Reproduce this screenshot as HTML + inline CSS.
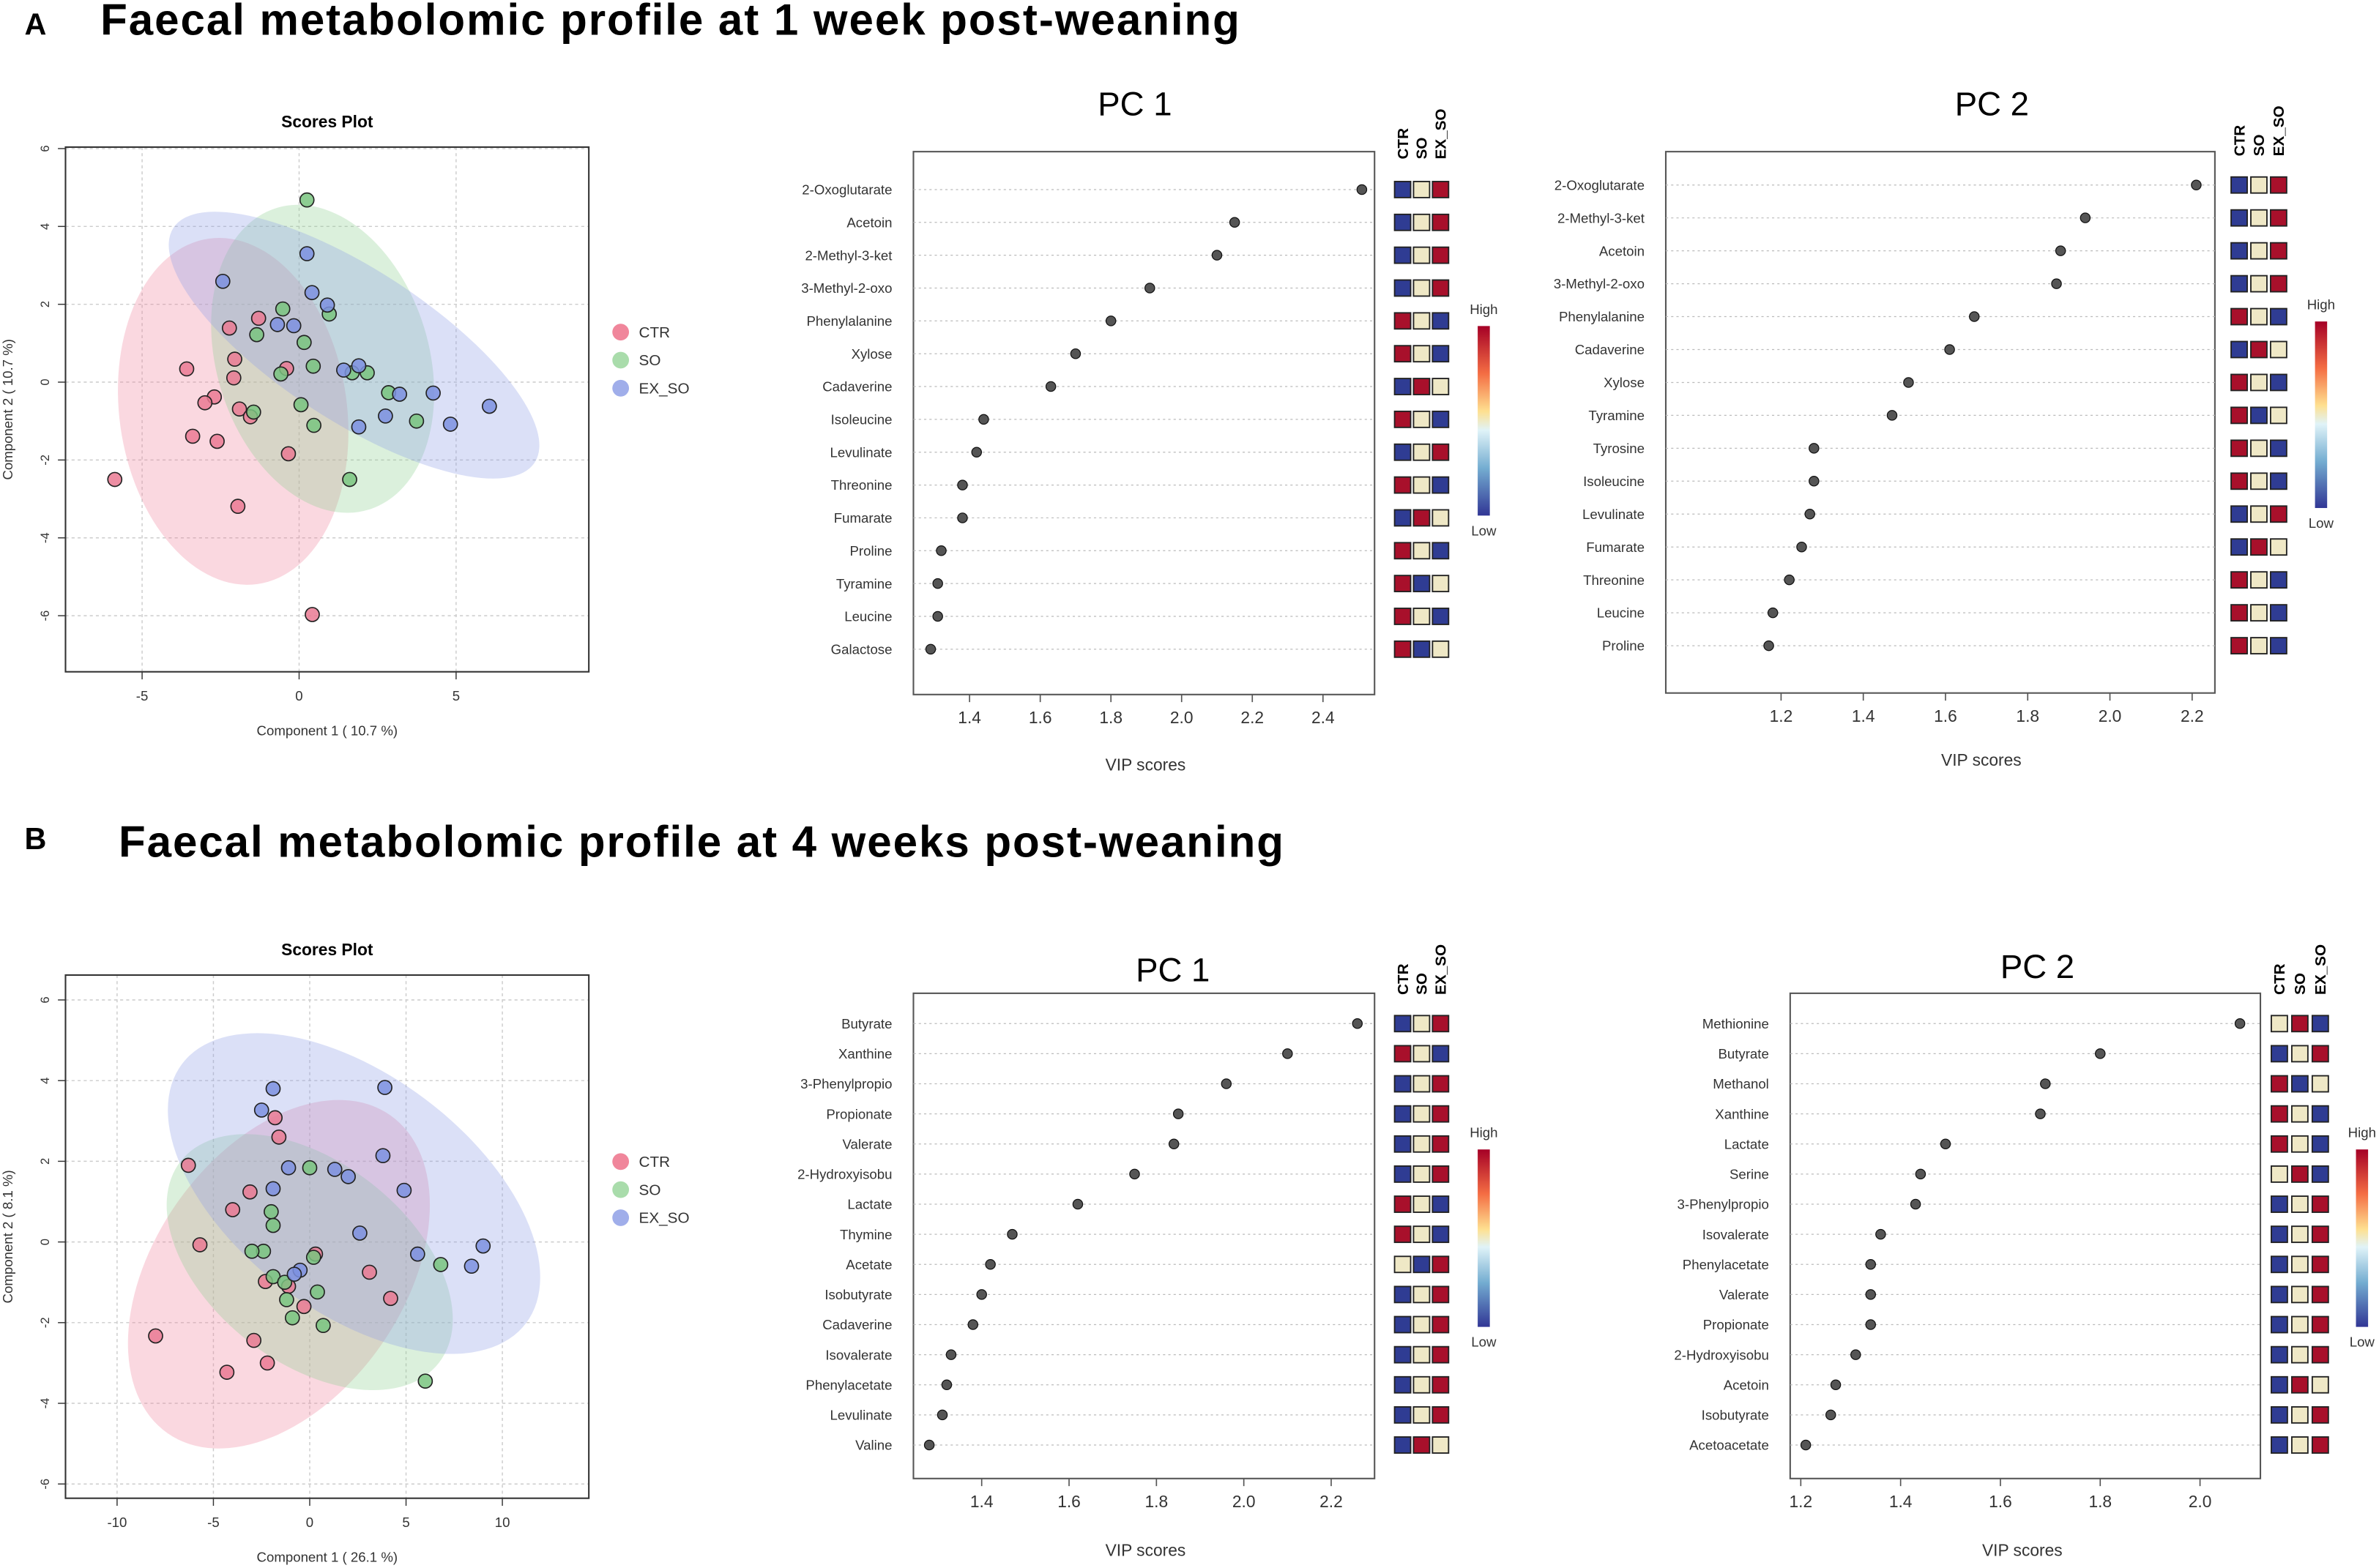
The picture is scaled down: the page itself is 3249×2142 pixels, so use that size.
<!DOCTYPE html>
<html><head><meta charset="utf-8"><style>
html,body{margin:0;padding:0;background:#fff;}
svg{display:block;font-family:"Liberation Sans",sans-serif;}
</style></head><body>
<svg id="fig" xmlns="http://www.w3.org/2000/svg" width="3249" height="2142" viewBox="0 0 1568 1034">
<rect width="1568" height="1034" fill="#fff"/>
<text x="16" y="23" font-size="20" font-weight="bold">A</text>
<text x="66" y="23" font-size="29" font-weight="bold" textLength="751">Faecal metabolomic profile at 1 week post-weaning</text>
<text x="16" y="560" font-size="20" font-weight="bold">B</text>
<text x="78" y="565" font-size="29" font-weight="bold" textLength="768">Faecal metabolomic profile at 4 weeks post-weaning</text>
<g id="root"></g>
</svg>
<script>
// ---------- DATA ----------
const groups = ["CTR","SO","EX_SO"];
// Scores plot A (component 1, component 2)
const aCtrX = [-5.87,-1.95,0.42,-3.58,-2.22,-2.05,-2.08,-2.7,-3.0,-1.9,-1.55,-3.39,-2.61,-0.34,-0.4,-1.29];
const aCtrY = [-2.5,-3.19,-5.97,0.34,1.39,0.59,0.11,-0.38,-0.53,-0.69,-0.89,-1.39,-1.52,-1.84,0.35,1.64];
const aSoX = [0.25,-0.52,0.96,-1.35,0.16,0.45,-0.58,1.69,2.17,2.85,-1.45,0.06,0.47,3.74,1.61];
const aSoY = [4.68,1.88,1.75,1.22,1.02,0.41,0.21,0.24,0.24,-0.27,-0.77,-0.58,-1.11,-1.0,-2.5];
const aExX = [-2.43,0.25,0.41,0.9,-0.69,-0.17,1.42,1.9,3.2,4.27,6.06,2.75,1.9,4.82];
const aExY = [2.59,3.3,2.3,1.98,1.48,1.45,0.31,0.42,-0.31,-0.28,-0.62,-0.87,-1.15,-1.08];
// Scores plot B
const bCtrX = [-8.0,-4.3,-2.2,-2.9,-6.3,-5.7,-4.0,-3.1,-2.3,-1.8,-1.6,-1.1,-0.3,0.3,3.1,4.2];
const bCtrY = [-2.33,-3.23,-3.0,-2.44,1.9,-0.07,0.8,1.24,-0.98,3.08,2.6,-1.1,-1.6,-0.3,-0.75,-1.4];
const bSoX = [6.0,6.8,0.0,-2.0,-1.9,-2.4,-3.0,-1.2,-0.9,0.2,0.4,0.7,-1.9,-1.3];
const bSoY = [-3.45,-0.56,1.84,0.75,0.41,-0.23,-0.23,-1.43,-1.88,-0.38,-1.24,-2.07,-0.86,-1.0];
const bExX = [-1.9,3.9,-2.5,-1.1,1.3,2.0,3.8,4.9,2.6,5.6,8.4,9.0,-1.9,-0.5,-0.8];
const bExY = [3.8,3.83,3.27,1.84,1.8,1.62,2.14,1.28,0.22,-0.3,-0.6,-0.1,1.32,-0.7,-0.8];
const aXTicks = [-5,0,5];
const aYTicks = [-6,-4,-2,0,2,4,6];
const bXTicks = [-10,-5,0,5,10];
const bYTicks = [-6,-4,-2,0,2,4,6];
// VIP A PC1
const a1Names = ["2-Oxoglutarate","Acetoin","2-Methyl-3-ket","3-Methyl-2-oxo","Phenylalanine","Xylose","Cadaverine","Isoleucine","Levulinate","Threonine","Fumarate","Proline","Tyramine","Leucine","Galactose"];
const a1Vals = [2.51,2.15,2.10,1.91,1.80,1.70,1.63,1.44,1.42,1.38,1.38,1.32,1.31,1.31,1.29];
const a1Heat = ["BYR","BYR","BYR","BYR","RYB","RYB","BRY","RYB","BYR","RYB","BRY","RYB","RBY","RYB","RBY"];
const a1Ticks = [1.4,1.6,1.8,2.0,2.2,2.4];
// VIP A PC2
const a2Names = ["2-Oxoglutarate","2-Methyl-3-ket","Acetoin","3-Methyl-2-oxo","Phenylalanine","Cadaverine","Xylose","Tyramine","Tyrosine","Isoleucine","Levulinate","Fumarate","Threonine","Leucine","Proline"];
const a2Vals = [2.21,1.94,1.88,1.87,1.67,1.61,1.51,1.47,1.28,1.28,1.27,1.25,1.22,1.18,1.17];
const a2Heat = ["BYR","BYR","BYR","BYR","RYB","BRY","RYB","RBY","RYB","RYB","BYR","BRY","RYB","RYB","RYB"];
const a2Ticks = [1.2,1.4,1.6,1.8,2.0,2.2];
// VIP B PC1
const b1Names = ["Butyrate","Xanthine","3-Phenylpropio","Propionate","Valerate","2-Hydroxyisobu","Lactate","Thymine","Acetate","Isobutyrate","Cadaverine","Isovalerate","Phenylacetate","Levulinate","Valine"];
const b1Vals = [2.26,2.10,1.96,1.85,1.84,1.75,1.62,1.47,1.42,1.40,1.38,1.33,1.32,1.31,1.28];
const b1Heat = ["BYR","RYB","BYR","BYR","BYR","BYR","RYB","RYB","YBR","BYR","BYR","BYR","BYR","BYR","BRY"];
const b1Ticks = [1.4,1.6,1.8,2.0,2.2];
// VIP B PC2
const b2Names = ["Methionine","Butyrate","Methanol","Xanthine","Lactate","Serine","3-Phenylpropio","Isovalerate","Phenylacetate","Valerate","Propionate","2-Hydroxyisobu","Acetoin","Isobutyrate","Acetoacetate"];
const b2Vals = [2.08,1.80,1.69,1.68,1.49,1.44,1.43,1.36,1.34,1.34,1.34,1.31,1.27,1.26,1.21];
const b2Heat = ["YRB","BYR","RBY","RYB","RYB","YRB","BYR","BYR","BYR","BYR","BYR","BYR","BRY","BYR","BYR"];
const b2Ticks = [1.2,1.4,1.6,1.8,2.0];

// ---------- DRAW ----------
const NS="http://www.w3.org/2000/svg";
const root=document.getElementById('root');
function el(tag,attrs,parent,txt){const e=document.createElementNS(NS,tag);for(const k in attrs)e.setAttribute(k,attrs[k]);if(txt!==undefined)e.textContent=txt;(parent||root).appendChild(e);return e;}
const ptCol={CTR:"#ea7a93",SO:"#79c47f",EX_SO:"#7d90e0"};
const lgCol={CTR:"#f0869b",SO:"#a9dcab",EX_SO:"#a0aeea"};
const heatCol={B:"#2f3c93",Y:"#efe8c6",R:"#a8102b"};

function scores(cfg){
  const g=el('g',{});
  
  
  const sx=v=>cfg.x0+(v-cfg.xa)*cfg.kx, sy=v=>cfg.y0-(v-cfg.ya)*cfg.ky;
  const t=el('text',{x:(cfg.L+cfg.R)/2,y:cfg.T-13,'font-size':11,'font-weight':'bold','text-anchor':'middle'},g,'Scores Plot');
  
  cfg.xt.forEach(v=>{el('line',{x1:sx(v),x2:sx(v),y1:cfg.T,y2:cfg.B,stroke:'#ccc','stroke-dasharray':'2,2','stroke-width':0.7},g);
    el('line',{x1:sx(v),x2:sx(v),y1:cfg.B,y2:cfg.B+5,stroke:'#333','stroke-width':0.7},g);
    const l=el('text',{x:sx(v),y:cfg.B+19,'font-size':9,'text-anchor':'middle',fill:'#333'},g,String(v));
    });
  cfg.yt.forEach(v=>{el('line',{x1:cfg.L,x2:cfg.R,y1:sy(v),y2:sy(v),stroke:'#ccc','stroke-dasharray':'2,2','stroke-width':0.7},g);
    el('line',{x1:cfg.L-5,x2:cfg.L,y1:sy(v),y2:sy(v),stroke:'#333','stroke-width':0.7},g);
    const l=el('text',{x:cfg.L-13,y:sy(v),'font-size':8,'text-anchor':'middle',fill:'#333',transform:`rotate(-90 ${cfg.L-13} ${sy(v)})`,'dominant-baseline':'middle'},g,String(v));
    });
  cfg.ell.forEach(e=>{const p=el('ellipse',{cx:sx(e[0]),cy:sy(e[1]),rx:e[2],ry:e[3],transform:`rotate(${e[4]} ${sx(e[0])} ${sy(e[1])})`,fill:e[5],'fill-opacity':0.32},g);
    });
  cfg.pts.forEach(([grp,xs,ys])=>xs.forEach((x,i)=>{const c=el('circle',{cx:sx(x),cy:sy(ys[i]),r:4.6,fill:ptCol[grp],'fill-opacity':0.85,stroke:'#222','stroke-width':0.8},g);
    }));
  el('rect',{x:cfg.L,y:cfg.T,width:cfg.R-cfg.L,height:cfg.B-cfg.T,fill:'none',stroke:'#333','stroke-width':1},g);
  const xl=el('text',{x:(cfg.L+cfg.R)/2,y:cfg.B+42,'font-size':9,'text-anchor':'middle',fill:'#333'},g,cfg.xlab);
  
  const yc=(cfg.T+cfg.B)/2;
  const yl=el('text',{x:8,y:yc,'font-size':9,'text-anchor':'middle',fill:'#333',transform:`rotate(-90 8 ${yc})`},g,cfg.ylab);
  
  groups.forEach((grp,i)=>{const y=cfg.legY+i*18.5;
    const lg=el('g',{},g);
    el('circle',{cx:409,cy:y,r:5.5,fill:lgCol[grp]},lg);
    el('text',{x:421,y:y+3.5,'font-size':10,fill:'#333'},lg,grp);});
}

scores({name:'scores-plot-a',L:43,R:388,T:97,B:443,x0:197,xa:0,kx:20.7,y0:252,ya:0,ky:25.67,xt:aXTicks,yt:aYTicks,
  xlab:'Component 1 ( 10.7 %)',ylab:'Component 2 ( 10.7 %)',legY:219,
  ell:[[-2.1,-0.75,75,115,-8,'#f0859e'],[0.75,0.6,70,104,-17,'#8fd193'],[1.75,0.95,142,50,33,'#8f9ee6']],
  pts:[['CTR',aCtrX,aCtrY],['SO',aSoX,aSoY],['EX_SO',aExX,aExY]]});
scores({name:'scores-plot-b',L:43,R:388,T:643,B:988,x0:204,xa:0,kx:12.7,y0:819,ya:0,ky:26.6,xt:bXTicks,yt:bYTicks,
  xlab:'Component 1 ( 26.1 %)',ylab:'Component 2 ( 8.1 %)',legY:766,
  ell:[[-1.6,-0.8,128,82,-55,'#f0859e'],[0,-0.5,108,66,38,'#8fd193'],[2.3,1.2,142,78,37,'#8f9ee6']],
  pts:[['CTR',bCtrX,bCtrY],['SO',bSoX,bSoY],['EX_SO',bExX,bExY]]});

function vip(cfg){
  const g=el('g',{});
  
  
  const sx=v=>cfg.x0+(v-cfg.xa)*cfg.kx;
  const rowY=i=>cfg.r0+i*cfg.dr;
  const t=el('text',{x:cfg.tx,y:cfg.ty,'font-size':22,'text-anchor':'middle'},g,cfg.title);
  
  el('rect',{x:cfg.L,y:cfg.T,width:cfg.R-cfg.L,height:cfg.B-cfg.T,fill:'none',stroke:'#555','stroke-width':1},g);
  cfg.names.forEach((n,i)=>{const y=rowY(i);
    el('line',{x1:cfg.L,x2:cfg.R,y1:y,y2:y,stroke:'#bbb','stroke-dasharray':'1.5,2','stroke-width':0.6},g);
    const l=el('text',{x:cfg.L-14,y:y+3.2,'font-size':9,'text-anchor':'end',fill:'#333'},g,n);
    
    const c=el('circle',{cx:sx(cfg.vals[i]),cy:y,r:3.2,fill:'#555',stroke:'#111','stroke-width':0.6},g);
    
    cfg.heat[i].split('').forEach((k,j)=>{const r=el('rect',{x:cfg.hx+j*cfg.hs-5.3,y:y-5.3,width:10.6,height:10.6,fill:heatCol[k],stroke:'#222','stroke-width':0.9},g);
      });
  });
  groups.forEach((grp,j)=>{const x=cfg.hx+j*cfg.hs+3.5;
    const h=el('text',{x:x,y:cfg.hy,'font-size':10,'font-weight':'bold',transform:`rotate(-90 ${x} ${cfg.hy})`},g,grp);
    });
  cfg.ticks.forEach(v=>{el('line',{x1:sx(v),x2:sx(v),y1:cfg.B,y2:cfg.B+5,stroke:'#555','stroke-width':0.8},g);
    const l=el('text',{x:sx(v),y:cfg.B+19,'font-size':11,'text-anchor':'middle',fill:'#333'},g,v.toFixed(1));
    });
  const xl=el('text',{x:cfg.vx,y:cfg.vy,'font-size':11,'text-anchor':'middle',fill:'#333'},g,'VIP scores');
  
  const cb=el('rect',{x:cfg.cbx-4,y:cfg.cbT,width:8,height:cfg.cbB-cfg.cbT,fill:'url(#cbar)'},g);
  
  el('text',{x:cfg.cbx,y:cfg.cbT-8,'font-size':9,'text-anchor':'middle',fill:'#333'},g,'High');
  el('text',{x:cfg.cbx,y:cfg.cbB+13,'font-size':9,'text-anchor':'middle',fill:'#333'},g,'Low');
}
const defs=el('defs',{},document.getElementById('fig'));
const lgd=el('linearGradient',{id:'cbar',x1:0,y1:0,x2:0,y2:1},defs);
[['0','#a50026'],['0.25','#f46d43'],['0.45','#fee090'],['0.55','#e0f3f8'],['0.75','#74add1'],['1','#313695']].forEach(s=>el('stop',{offset:s[0],'stop-color':s[1]},lgd));

vip({name:'vip-a-pc1',title:'PC 1',tx:748,ty:76,L:602,R:906,T:100,B:458,r0:125,dr:21.65,names:a1Names,vals:a1Vals,heat:a1Heat,
  x0:639,xa:1.4,kx:233,ticks:a1Ticks,vx:755,vy:508,hx:924.5,hs:12.5,hy:105,cbx:978,cbT:215,cbB:340});
vip({name:'vip-a-pc2',title:'PC 2',tx:1313,ty:76,L:1098,R:1460,T:100,B:457,r0:122,dr:21.7,names:a2Names,vals:a2Vals,heat:a2Heat,
  x0:1174,xa:1.2,kx:271,ticks:a2Ticks,vx:1306,vy:505,hx:1476,hs:13,hy:103,cbx:1530,cbT:212,cbB:335});
vip({name:'vip-b-pc1',title:'PC 1',tx:773,ty:647,L:602,R:906,T:655,B:975,r0:675,dr:19.85,names:b1Names,vals:b1Vals,heat:b1Heat,
  x0:647,xa:1.4,kx:288,ticks:b1Ticks,vx:755,vy:1026,hx:924.5,hs:12.5,hy:656,cbx:978,cbT:758,cbB:875});
vip({name:'vip-b-pc2',title:'PC 2',tx:1343,ty:645,L:1180,R:1490,T:655,B:975,r0:675,dr:19.85,names:b2Names,vals:b2Vals,heat:b2Heat,
  x0:1187,xa:1.2,kx:329,ticks:b2Ticks,vx:1333,vy:1026,hx:1502.5,hs:13.5,hy:656,cbx:1557,cbT:758,cbB:875});
</script>
</body></html>
